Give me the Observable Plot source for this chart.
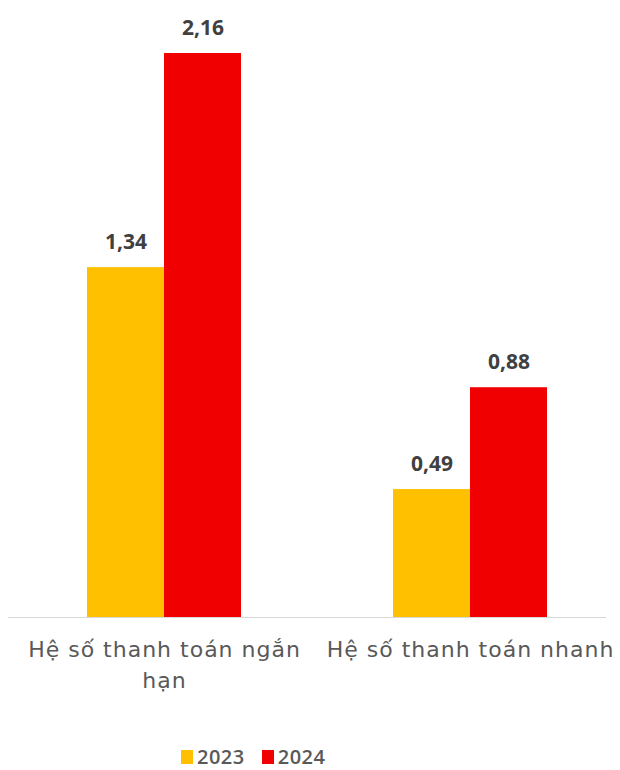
<!DOCTYPE html>
<html>
<head>
<meta charset="utf-8">
<script src="https://cdn.jsdelivr.net/npm/d3@7"></script>
<script src="https://cdn.jsdelivr.net/npm/@observablehq/plot@0.6"></script>
<style>
  body { margin: 0; background: #fff; font-family: "Open Sans", sans-serif; }
  #chart svg { display: block; }
  #legend { display: flex; align-items: center; padding-left: 181px; margin-top: 45px; font-size: 20px; line-height: 24px; color: #595959; font-weight: 600; }
  #legend .item { display: flex; align-items: center; margin-right: 17px; }
  #legend .sw { width: 12px; height: 14px; margin-right: 4px; }
  #legend .lbl { letter-spacing: 0.5px; }
  g[aria-label="x-axis tick label"] text { letter-spacing: 1px; }
</style>
</head>
<body>
<div id="chart"></div>
<div id="legend"></div>
<script>
const categories = ["Hệ số thanh toán ngắn hạn", "Hệ số thanh toán nhanh"];
const categoryTickLabels = ["Hệ số thanh toán ngắn\nhạn", "Hệ số thanh toán nhanh"];
const years = ["2023", "2024"];
const values2023 = [1.34, 0.49];
const values2024 = [2.16, 0.88];
const colors = ["#FFC000", "#F00000"];

const d2023 = categories.map((c, i) => ({category: c, year: "2023", value: values2023[i]}));
const d2024 = categories.map((c, i) => ({category: c, year: "2024", value: values2024[i]}));

const fmt = d3.formatLocale({decimal: ",", thousands: ".", grouping: [3], currency: ["", ""]}).format(".2f");

const half = 77;
const chart = Plot.plot({
  width: 620,
  height: 700,
  marginLeft: 8,
  marginRight: 14,
  marginTop: 53,
  marginBottom: 83,
  style: {fontFamily: "Open Sans, sans-serif", background: "#fff"},
  x: {domain: categories, paddingInner: 0.498, paddingOuter: 0.223, align: 0.57, label: null},
  y: {domain: [0, 2.16], axis: null},
  marks: [
    Plot.ruleY([0], {stroke: "#d9d9d9", strokeWidth: 1}),
    Plot.barY(d2023, {x: "category", y: "value", fill: colors[0], insetRight: half, insetLeft: 0}),
    Plot.barY(d2024, {x: "category", y: "value", fill: colors[1], insetLeft: half, insetRight: 0}),
    Plot.text(d2023, {x: "category", y: "value", text: d => fmt(d.value), dx: -half / 2, dy: -25, fill: "#404040", fontSize: 21, fontWeight: 700}),
    Plot.text(d2024, {x: "category", y: "value", text: d => fmt(d.value), dx: half / 2, dy: -25, fill: "#404040", fontSize: 21, fontWeight: 700}),
    Plot.axisX({
      tickSize: 0,
      tickPadding: 18,
      fontSize: 22,
      fontFamily: "DejaVu Sans, sans-serif",
      fill: "#595959",
      lineHeight: 1.4,
      tickFormat: d => categoryTickLabels[categories.indexOf(d)],
      label: null
    })
  ]
});
document.getElementById("chart").appendChild(chart);

const legend = document.getElementById("legend");
years.forEach((y, i) => {
  const item = document.createElement("div");
  item.className = "item";
  const sw = document.createElement("span");
  sw.className = "sw";
  sw.style.background = colors[i];
  const t = document.createElement("span");
  t.className = "lbl";
  t.textContent = y;
  item.appendChild(sw);
  item.appendChild(t);
  legend.appendChild(item);
});
</script>
</body>
</html>
